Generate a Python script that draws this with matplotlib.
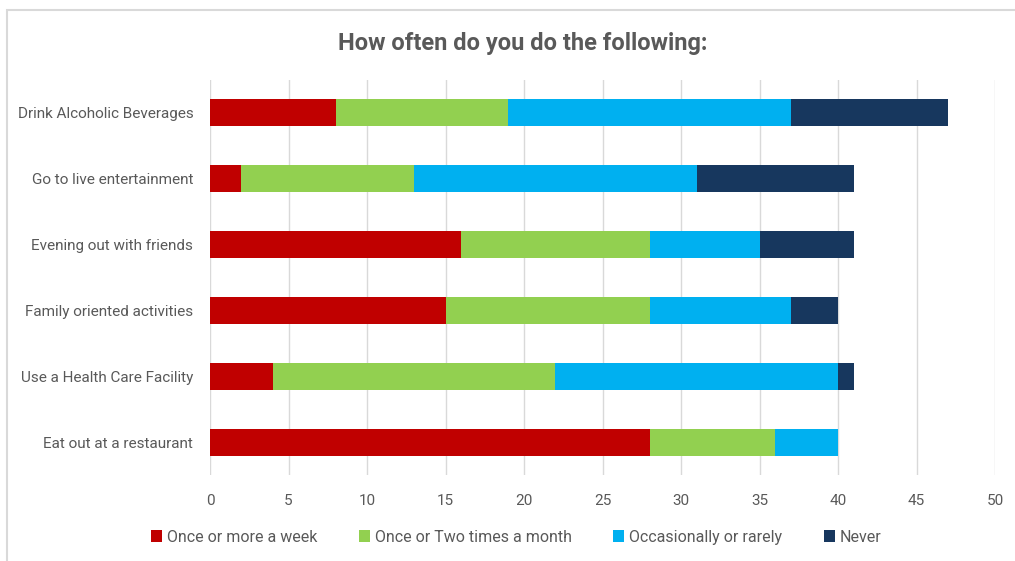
import matplotlib.pyplot as plt
from matplotlib.patches import Rectangle

plt.rcParams['font.family'] = ['Roboto', 'DejaVu Sans']

activities = ['Eat out at a restaurant', 'Use a Health Care Facility', 'Family oriented activities',
              'Evening out with friends', 'Go to live entertainment', 'Drink Alcoholic Beverages']
weekly = [28, 4, 15, 16, 2, 8]
monthly = [8, 18, 13, 12, 11, 11]
rarely = [4, 18, 9, 7, 18, 18]
never = [0, 1, 3, 6, 10, 10]

series = [
    ('Once or more a week', weekly, '#C00000'),
    ('Once or Two times a month', monthly, '#92D050'),
    ('Occasionally or rarely', rarely, '#00B0F0'),
    ('Never', never, '#17375E'),
]

text_color = '#595959'

fig = plt.figure(figsize=(10.15, 5.61), dpi=100)
ax = fig.add_axes([0.2069, 0.1533, 0.7734, 0.7041])

left = [0] * len(activities)
for name, vals, color in series:
    ax.barh(activities, vals, left=left, height=0.41, color=color, label=name, zorder=3)
    left = [a + b for a, b in zip(left, vals)]

ax.set_xlim(0, 50)
ax.set_ylim(-0.5, 5.5)
ax.set_xticks(range(0, 51, 5))
ax.grid(axis='x', color='#D9D9D9', linewidth=1, zorder=0)
for s in ax.spines.values():
    s.set_visible(False)
ax.tick_params(axis='both', length=0, colors=text_color, labelsize=11)
ax.tick_params(axis='x', pad=14)
ax.tick_params(axis='y', pad=12)

fig.text(0.515, 0.922, 'How often do you do the following:', ha='center', va='center',
         fontsize=17, fontweight='bold', color=text_color)

ax.legend(loc='center', bbox_to_anchor=(0.39, -0.157), ncol=4, frameon=False,
          fontsize=11.5, labelcolor=text_color, handlelength=0.7, handleheight=0.7,
          handletextpad=0.3, columnspacing=2.6)

# chart area border
fig.patches.append(Rectangle((7 / 1015, -0.1), 1.2, 1 - 10 / 561 + 0.1,
                             transform=fig.transFigure, fill=False,
                             edgecolor='#D9D9D9', linewidth=1.5))

fig.savefig('out.png', dpi=100)
